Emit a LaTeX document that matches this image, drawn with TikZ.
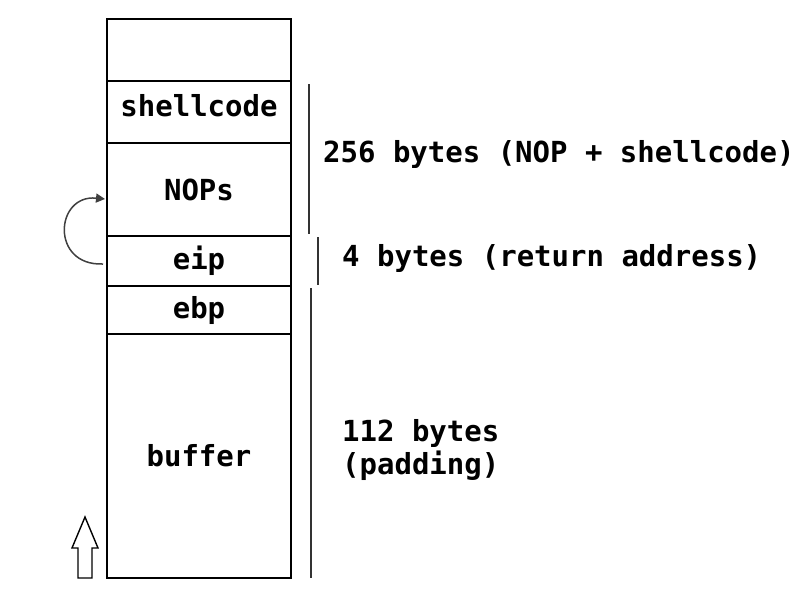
\documentclass[tikz,border=0pt]{standalone}
\usepackage{fontspec}
\setmonofont{DejaVu Sans Mono}
\usetikzlibrary{positioning,arrows.meta}

\begin{document}
\begin{tikzpicture}[
		x=1pt, y=-1pt,
		node font=\fontsize{29}{33}\selectfont\ttfamily\bfseries,
		cell/.style={
				rectangle,
				draw=black,
				line width=2.6pt,
				outer sep=0pt,
				minimum width=184pt
			},
		span/.style={draw=black!80, line width=1.4pt},
		note/.style={anchor=west, align=left, inner sep=0pt}
	]
	\useasboundingbox (0,0) rectangle (800,600);

	% stack
	\node[cell, minimum height=62pt] (top) at (199,50) {};
	\node[cell, minimum height=62pt, text depth=14pt, below=0pt of top] (shellcode) {shellcode};
	\node[cell, minimum height=93pt, below=0pt of shellcode] (nops) {NOPs};
	\node[cell, minimum height=50pt, below=0pt of nops] (eip) {eip};
	\node[cell, minimum height=48pt, below=0pt of eip] (ebp) {ebp};
	\node[cell, minimum height=244pt, below=0pt of ebp] (buffer) {buffer};

	% sizes
	\coordinate (s1a) at (309,84);  \coordinate (s1b) at (309,234);
	\coordinate (s2a) at (318,237); \coordinate (s2b) at (318,285);
	\coordinate (s3a) at (311,288); \coordinate (s3b) at (311,578);
	\draw[span] (s1a) -- (s1b);
	\draw[span] (s2a) -- (s2b);
	\draw[span] (s3a) -- (s3b);
	\node[note] (payload) at (323,154) {256 bytes (NOP + shellcode)};
	\node[note] (ret) at (342,258) {4 bytes (return address)};
	\node[note] (padding) at (342,450) {112 bytes\\(padding)};

	% jump back into the sled
	\coordinate (jmpfrom) at (103,264);
	\coordinate (jmpto) at (105,199);
	\draw[-{Triangle[length=9pt,width=9pt]}, draw=black!75, line width=1.5pt] (jmpfrom) .. controls (50,266) and (55,194) .. (jmpto);

	% growth direction
	\draw[line width=1.4pt] (78,578) -- (78,548) -- (72,548) -- (85,517) -- (98,548) -- (92,548) -- (92,578) -- cycle;
\end{tikzpicture}
\end{document}
